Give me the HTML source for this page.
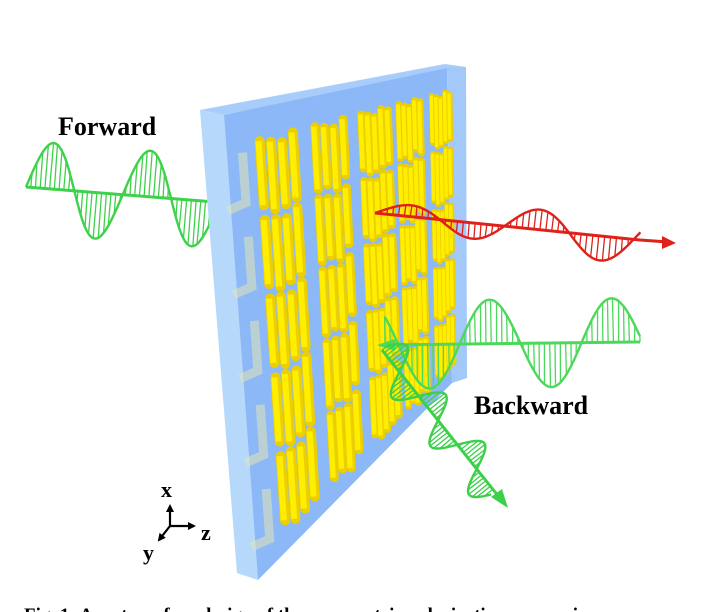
<!DOCTYPE html>
<html><head><meta charset="utf-8"><style>
html,body{margin:0;padding:0;background:#fff;width:716px;height:612px;overflow:hidden}
svg{display:block}
text{font-family:"Liberation Serif",serif;font-weight:bold;fill:#000}
</style></head><body>
<svg id="s" width="716" height="612" viewBox="0 0 716 612" xmlns="http://www.w3.org/2000/svg">
<defs>
<marker id="ak" markerWidth="8" markerHeight="8" refX="6" refY="4" orient="auto" markerUnits="userSpaceOnUse"><path d="M0,0 L8,4 L0,8 z" fill="#000"/></marker>
</defs>
<g id="back"></g>
<polygon points="200,110 445,64 466,67 224,115" fill="#a9cdfa"/>
<polygon points="200,110 224,115 258,580 237,573" fill="#b5d8fb"/>
<polygon points="224,115 447,68 452,383 258,580" fill="#8cb8f7"/>
<polygon points="447,68 466,67 467,378 452,383" fill="#a3c8fa"/>
<g id="rods"></g>
<g id="front"></g>
<text x="58" y="135" font-size="26">Forward</text>
<text x="474" y="414" font-size="26">Backward</text>
<g stroke="#000" stroke-width="2.2" fill="none">
<line x1="170" y1="526" x2="170" y2="506" marker-end="url(#ak)"/>
<line x1="170" y1="526" x2="194" y2="526" marker-end="url(#ak)"/>
<line x1="170" y1="526" x2="159" y2="540" marker-end="url(#ak)"/>
</g>
<text x="161" y="497" font-size="22">x</text>
<text x="201" y="540" font-size="22">z</text>
<text x="143" y="560" font-size="22">y</text>
<text x="24" y="621" font-size="19">Fig. 1: A metasurface design of the asymmetric polarization conversion</text>
</svg>
<script>
var NS="http://www.w3.org/2000/svg";
function el(p,t,a){var e=document.createElementNS(NS,t);for(var k in a)e.setAttribute(k,a[k]);p.appendChild(e);return e;}
function P(u,v){var tl=[224,115],tr=[447,68],bl=[258,580],br=[452,383];
var x=(1-u)*(1-v)*tl[0]+u*(1-v)*tr[0]+(1-u)*v*bl[0]+u*v*br[0];
var y=(1-u)*(1-v)*tl[1]+u*(1-v)*tr[1]+(1-u)*v*bl[1]+u*v*br[1];return[x,y];}
var rods=document.getElementById('rods');
for(var r=0;r<5;r++){var a=P(0.07,0.09+r*0.185),b=P(0.07,0.2+r*0.185);
el(rods,'polyline',{points:a[0]+','+a[1]+' '+b[0]+','+b[1]+' '+(b[0]-18)+','+(b[1]+8),fill:'none',stroke:'#e8e8b0','stroke-width':9,opacity:0.5});}
var us=[0.15,0.40,0.61,0.78,0.93],ws=[0.2,0.17,0.15,0.12,0.10];
for(var r=0;r<5;r++){for(var c=0;c<5;c++){
 var n=c>=2?5:4;
 for(var i=0;i<n;i++){
  var u=us[c]+i*ws[c]/n;
  var v0=0.075+r*0.178+((i*7+c*3)%3)*0.008, v1=v0+0.145+((i+c)%2)*0.01;
  var p0=P(u,v0),p1=P(u,v1);
  var w=10-c*1.1;
  el(rods,'line',{x1:p0[0],y1:p0[1],x2:p1[0],y2:p1[1],stroke:'#eccf00','stroke-width':w,'stroke-linecap':'round'});
  el(rods,'line',{x1:p0[0]-w*0.12,y1:p0[1],x2:p1[0]-w*0.12,y2:p1[1],stroke:'#ffee00','stroke-width':w*0.6});
 }}}
function wave(g,x0,y0,x1,y1,amp,per,phase,col,nh,ampf,arrow,arrowAtStart){
 var dx=x1-x0,dy=y1-y0,L=Math.hypot(dx,dy),ux=dx/L,uy=dy/L,nx=uy,ny=-ux;
 var pts=[];for(var s=0;s<=L;s+=1){var A=amp*(ampf?ampf(s/L):1);var h=A*Math.sin(2*Math.PI*(s/per)+phase);pts.push([x0+ux*s+nx*h,y0+uy*s+ny*h]);}
 el(g,'line',{x1:x0,y1:y0,x2:x1,y2:y1,stroke:col,'stroke-width':3});
 for(var s=0;s<=L;s+=L/nh){var i=Math.round(s);if(i>=pts.length)continue;var bx=x0+ux*s,by=y0+uy*s;
  el(g,'line',{x1:bx,y1:by,x2:pts[i][0],y2:pts[i][1],stroke:col,'stroke-width':1.3});}
 el(g,'polyline',{points:pts.map(function(p){return p[0].toFixed(1)+','+p[1].toFixed(1)}).join(' '),fill:'none',stroke:col,'stroke-width':2.4});
 if(arrow){var ex=arrowAtStart?x0:x1,ey=arrowAtStart?y0:y1,sx=arrowAtStart?-ux:ux,sy=arrowAtStart?-uy:uy;
  el(g,'polygon',{points:(ex+sx*8)+','+(ey+sy*8)+' '+(ex-sx*10+nx*6)+','+(ey-sy*10+ny*6)+' '+(ex-sx*10-nx*6)+','+(ey-sy*10-ny*6),fill:col});}
}
var back=document.getElementById('back'),front=document.getElementById('front');
wave(back,26,187,215,202,46,97,0,'#3ed24a',40);
wave(front,375,213,640,240,18,130,0,'#e0201a',45,function(t){return 0.5+t;},false);
el(front,'line',{x1:640,y1:240,x2:668,y2:242,stroke:'#e0201a','stroke-width':3});
el(front,'polygon',{points:'676,243 662,236 662,249',fill:'#e0201a'});
wave(front,385,345,640,342,44,122,-3.84,'#4cd85a',48,null,true,true);
wave(front,382,350,495,492,22,62,0.3,'#3ccf4a',50,null,false);
el(front,'line',{x1:495,y1:492,x2:500,y2:498,stroke:'#3ccf4a','stroke-width':3});
el(front,'polygon',{points:'508,508 491,497 502,489',fill:'#3ccf4a'});
</script>
</body></html>
